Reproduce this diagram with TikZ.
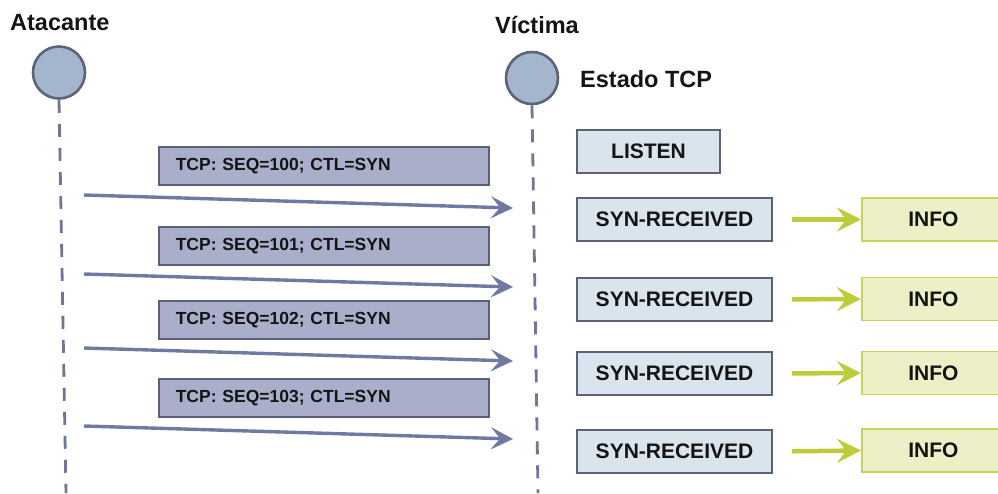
\documentclass[tikz,border=0pt]{standalone}
\usepackage{fontspec}
\setmainfont{Liberation Sans}
\usetikzlibrary{arrows.meta}

\definecolor{lifefill}{HTML}{A3B6CC}
\definecolor{lifeedge}{HTML}{5B6479}
\definecolor{lifeline}{HTML}{6E7699}
\definecolor{msgfill}{HTML}{A9AECB}
\definecolor{msgedge}{HTML}{5C5F79}
\definecolor{msgarrow}{HTML}{6F7AA3}
\definecolor{statefill}{HTML}{D9E4EC}
\definecolor{stateedge}{HTML}{5B6179}
\definecolor{infofill}{HTML}{EDEFC7}
\definecolor{infoedge}{HTML}{C6D45A}
\definecolor{infoarrow}{HTML}{BECB3A}
\definecolor{ink}{HTML}{141414}

\tikzset{
  actor/.style={circle, draw=lifeedge, fill=lifefill, line width=2.6pt,
    minimum size=52pt, inner sep=0pt},
  lifedash/.style={draw=lifeline, line width=2.8pt, dash pattern=on 13pt off 11pt},
  title/.style={font=\bfseries\fontsize{23.5}{27}\selectfont, text=ink, inner sep=0pt},
  msgbox/.style={rectangle, draw=msgedge, fill=msgfill, line width=1.5pt,
    minimum height=38pt, text width=296pt, inner xsep=17pt, inner ysep=0pt,
    align=left, anchor=north west, font=\bfseries\fontsize{17.5}{20}\selectfont, text=ink},
  msgline/.style={draw=msgarrow, line width=3.4pt,
    -{Stealth[length=22pt, width=22pt, inset=9pt]}},
  statebox/.style={rectangle, draw=stateedge, fill=statefill, line width=1.6pt,
    minimum height=43pt, inner sep=0pt, font=\bfseries\fontsize{21}{25}\selectfont, text=ink},
  infobox/.style={rectangle, draw=infoedge, fill=infofill, line width=1.8pt,
    minimum height=43pt, minimum width=143pt, inner sep=0pt, anchor=west,
    font=\bfseries\fontsize{21}{25}\selectfont, text=ink},
  infoline/.style={draw=infoarrow, line width=4.5pt, shorten <=19pt,
    -{Stealth[length=24pt, width=24pt, inset=9pt]}},
}

\begin{document}
\begin{tikzpicture}[x=1pt, y=-1pt]
\useasboundingbox (0,0) rectangle (998,493);

% actors and their lifelines
\node[title, anchor=base west] (atkname) at (10,30) {Atacante};
\node[title, anchor=base west] (vicname) at (495,33) {Víctima};
\node[title, anchor=base west] (statename) at (580,87) {Estado TCP};

\node[actor] (atk) at (59,72.5) {};
\node[actor] (vic) at (532,78) {};
\coordinate (atkend) at (66,493);
\coordinate (vicend) at (538,493);
\draw[lifedash] (atk.south) -- (atkend);
\draw[lifedash] (vic.south) -- (vicend);

% SYN segments sent by the attacker
\node[msgbox] (m1) at (158,146) {TCP: SEQ=100; CTL=SYN};
\node[msgbox] (m2) at (158,226) {TCP: SEQ=101; CTL=SYN};
\node[msgbox] (m3) at (158,300) {TCP: SEQ=102; CTL=SYN};
\node[msgbox] (m4) at (158,378) {TCP: SEQ=103; CTL=SYN};

\coordinate (s1) at (84,195);  \coordinate (e1) at (513,208);
\coordinate (s2) at (84,274);  \coordinate (e2) at (513,287);
\coordinate (s3) at (84,348);  \coordinate (e3) at (513,361);
\coordinate (s4) at (84,426);  \coordinate (e4) at (513,439);
\draw[msgline] (s1) -- (e1);
\draw[msgline] (s2) -- (e2);
\draw[msgline] (s3) -- (e3);
\draw[msgline] (s4) -- (e4);

% victim connection states
\node[statebox, minimum width=143pt] (listen) at (648.5,151.5) {LISTEN};
\node[statebox, minimum width=195pt] (r1) at (674.5,219.5) {SYN-RECEIVED};
\node[statebox, minimum width=195pt] (r2) at (674.5,299.5) {SYN-RECEIVED};
\node[statebox, minimum width=195pt] (r3) at (674.5,373.5) {SYN-RECEIVED};
\node[statebox, minimum width=195pt] (r4) at (674.5,451.5) {SYN-RECEIVED};

% reserved connection information
\node[infobox] (i1) at (861,219.5) {INFO};
\node[infobox] (i2) at (861,299) {INFO};
\node[infobox] (i3) at (861,373) {INFO};
\node[infobox] (i4) at (861,450.5) {INFO};

\draw[infoline] (r1.east) -- (i1.west);
\draw[infoline] (r2.east) -- (i2.west);
\draw[infoline] (r3.east) -- (i3.west);
\draw[infoline] (r4.east) -- (i4.west);
\end{tikzpicture}
\end{document}
